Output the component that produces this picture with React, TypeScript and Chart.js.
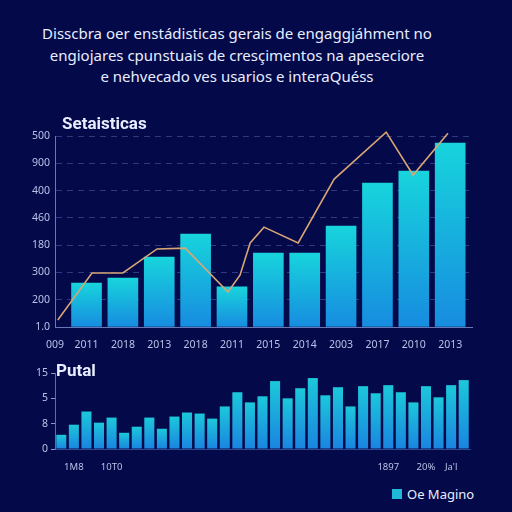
import React, { useEffect, useRef } from "react";
import { Chart, registerables } from "chart.js";

Chart.register(...registerables);

const BG = "#04094a";
const TEXT = "#e8eeff";
const TICK = "#b9c2e6";

const headerLines = [
  "Disscbra oer enstádisticas gerais de engaggjáhment no",
  "engiojares cpunstuais de cresçimentos na apeseciore",
  "e nehvecado ves usarios e interaQuéss",
];
const topTitle = "Setaisticas";
const bottomTitle = "Putal";
const legendLabel = "Oe Magino";

// top chart
const topXLabels = ["009", "2011", "2018", "2013", "2018", "2011", "2015", "2014", "2003", "2017", "2010", "2013"];
const topYLabels = ["1.0", "200", "300", "180", "460", "400", "900", "500"];
const topBars = [1.61, 1.79, 2.56, 3.41, 1.47, 2.71, 2.71, 3.7, 5.27, 5.71, 6.74];
const lineX = [-0.79, 0.15, 1.0, 1.94, 2.71, 3.89, 4.22, 4.5, 4.88, 5.82, 6.81, 8.24, 8.98, 9.94];
const lineY = [0.26, 1.98, 1.98, 2.86, 2.89, 1.28, 1.9, 3.08, 3.66, 3.08, 5.42, 7.14, 5.57, 7.1];
const topXMin = -0.867;
const topXMax = 10.6;

// bottom chart
const bottomYLabels = ["0", "8", "5", "15"];
const bottomBars = [
  0.56, 0.96, 1.48, 1.04, 1.24, 0.64, 0.88, 1.24, 0.8, 1.28, 1.44, 1.4, 1.2, 1.68, 2.24, 1.84, 2.08,
  2.68, 2.0, 2.4, 2.8, 2.12, 2.44, 1.68, 2.48, 2.2, 2.52, 2.24, 1.84, 2.48, 2.04, 2.52, 2.72,
];
const bottomTickIndex = [1, 4, 26, 29, 31];
const bottomTickText = ["1M8", "10T0", "1897", "20%", "Ja'l"];

function barGradient(c: any, top: string, bottom: string) {
  const chart = c.chart;
  const ys = chart.scales && chart.scales.y;
  if (!ys || !chart.chartArea || !c.parsed) return bottom;
  const yTop = ys.getPixelForValue(c.parsed.y);
  const yBot = ys.getPixelForValue(0);
  if (!isFinite(yTop) || !isFinite(yBot) || Math.abs(yBot - yTop) < 1) return bottom;
  const g = chart.ctx.createLinearGradient(0, yTop, 0, yBot);
  g.addColorStop(0, top);
  g.addColorStop(1, bottom);
  return g;
}

function TopChart() {
  const ref = useRef<HTMLCanvasElement>(null);
  useEffect(() => {
    const chart = new Chart(ref.current!, {
      type: "bar",
      data: {
        datasets: [
          {
            type: "line",
            data: lineX.map((x, i) => ({ x, y: lineY[i] })),
            borderColor: "#d8a674",
            borderWidth: 1.6,
            pointRadius: 0,
            tension: 0,
            clip: false,
            order: 0,
          } as any,
          {
            type: "bar",
            data: topBars.map((y, i) => ({ x: i, y })),
            backgroundColor: (c: any) => barGradient(c, "#17d4dc", "#178ce0"),
            barThickness: 30,
            order: 1,
          } as any,
        ],
      },
      options: {
        responsive: false,
        animation: false,
        layout: { padding: { top: 36, right: 40, left: 0, bottom: 0 } },
        plugins: { legend: { display: false }, tooltip: { enabled: false } },
        scales: {
          x: {
            type: "linear",
            min: topXMin,
            max: topXMax,
            offset: false,
            afterBuildTicks: (s: any) => {
              s.ticks = topXLabels.map((_, i) => ({ value: i === 0 ? topXMin : i - 1 }));
            },
            afterFit: (s: any) => {
              s.height = 23;
            },
            ticks: {
              autoSkip: false,
              maxRotation: 0,
              color: TICK,
              padding: 4,
              font: { family: "Noto Sans", size: 10.5 },
              callback: (_v: any, i: number) => topXLabels[i],
            },
            grid: { display: false },
            border: { display: true, color: "#6877b6" },
          },
          y: {
            min: 0,
            max: 7,
            afterBuildTicks: (s: any) => {
              s.ticks = topYLabels.map((_, i) => ({ value: i }));
            },
            afterFit: (s: any) => {
              s.width = 55;
            },
            ticks: {
              color: TICK,
              padding: 5,
              font: { family: "Noto Sans", size: 10.5 },
              callback: (_v: any, i: number) => topYLabels[i],
            },
            grid: { color: "rgba(110,130,205,0.4)", drawTicks: false, lineWidth: 1 },
            border: { display: true, color: "#6877b6", dash: [6, 5] },
          },
        },
      } as any,
    });
    return () => chart.destroy();
  }, []);
  return (
    <canvas
      ref={ref}
      width={512}
      height={250}
      style={{ position: "absolute", left: 0, top: 100, width: 512, height: 250 }}
    />
  );
}

function BottomChart() {
  const ref = useRef<HTMLCanvasElement>(null);
  useEffect(() => {
    const labels = bottomBars.map((_, i) => {
      const k = bottomTickIndex.indexOf(i);
      return k >= 0 ? bottomTickText[k] : "";
    });
    const chart = new Chart(ref.current!, {
      type: "bar",
      data: {
        labels,
        datasets: [
          {
            data: bottomBars,
            backgroundColor: (c: any) => barGradient(c, "#1cc8da", "#1a84e0"),
            categoryPercentage: 0.8,
            barPercentage: 1,
          },
        ],
      },
      options: {
        responsive: false,
        animation: false,
        layout: { padding: { top: 23, right: 42, left: 0, bottom: 0 } },
        plugins: { legend: { display: false }, tooltip: { enabled: false } },
        scales: {
          x: {
            afterFit: (s: any) => {
              s.height = 31;
            },
            ticks: {
              autoSkip: false,
              maxRotation: 0,
              color: TICK,
              padding: 5,
              font: { family: "Noto Sans", size: 9.5 },
            },
            grid: { display: false },
            border: { display: true, color: "#34448e" },
          },
          y: {
            min: 0,
            max: 3,
            afterBuildTicks: (s: any) => {
              s.ticks = bottomYLabels.map((_, i) => ({ value: i }));
            },
            afterFit: (s: any) => {
              s.width = 55;
            },
            ticks: {
              color: TICK,
              padding: 3,
              font: { family: "Noto Sans", size: 10.5 },
              callback: (_v: any, i: number) => bottomYLabels[i],
            },
            grid: {
              drawOnChartArea: false,
              drawTicks: true,
              tickLength: 4,
              tickColor: "#8a95c9",
              color: "#8a95c9",
            },
            border: { display: true, color: "#5f6dac" },
          },
        },
      } as any,
    });
    return () => chart.destroy();
  }, []);
  return (
    <canvas
      ref={ref}
      width={512}
      height={130}
      style={{ position: "absolute", left: 0, top: 350, width: 512, height: 130 }}
    />
  );
}

export default function App() {
  return (
    <div
      style={{
        position: "fixed",
        left: 0,
        top: 0,
        width: 512,
        height: 512,
        background: BG,
        overflow: "hidden",
        fontFamily: "'Noto Sans', 'DejaVu Sans', sans-serif",
        color: TEXT,
      }}
    >
      {headerLines.map((t, i) => (
        <div
          key={i}
          style={{
            position: "absolute",
            left: 0,
            width: 474,
            top: 22 + i * 21.5,
            height: 22,
            lineHeight: "22px",
            textAlign: "center",
            fontSize: 15,
            whiteSpace: "nowrap",
          }}
        >
          {t}
        </div>
      ))}
      <TopChart />
      <BottomChart />
      <div
        style={{
          position: "absolute",
          left: 62,
          top: 112,
          fontFamily: "Roboto, 'Noto Sans', sans-serif",
          fontSize: 17,
          fontWeight: 700,
          lineHeight: "22px",
          zIndex: 2,
        }}
      >
        {topTitle}
      </div>
      <div
        style={{
          position: "absolute",
          left: 56,
          top: 359,
          fontFamily: "Roboto, 'Noto Sans', sans-serif",
          fontSize: 17,
          fontWeight: 700,
          lineHeight: "22px",
          zIndex: 2,
        }}
      >
        {bottomTitle}
      </div>
      <div
        style={{
          position: "absolute",
          left: 392,
          top: 486,
          display: "flex",
          alignItems: "center",
          gap: 5,
          fontSize: 13,
          lineHeight: "16px",
        }}
      >
        <span style={{ display: "inline-block", width: 10, height: 10, background: "#1fb8d6" }} />
        <span>{legendLabel}</span>
      </div>
    </div>
  );
}
